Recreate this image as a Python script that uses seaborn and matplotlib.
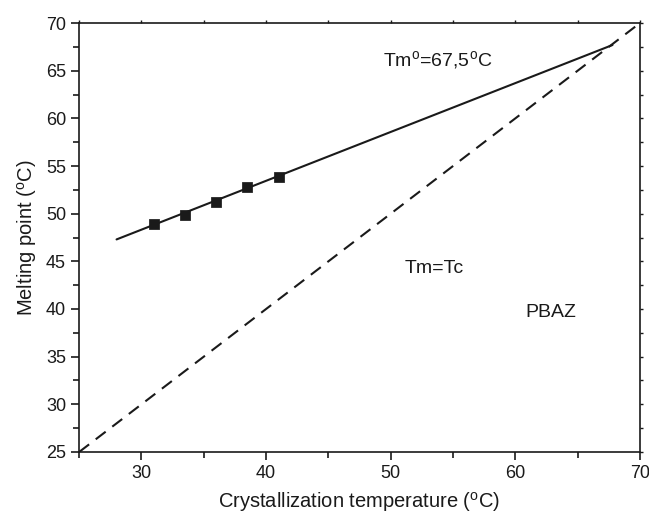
import matplotlib
matplotlib.use("Agg")
import matplotlib.pyplot as plt
from matplotlib.ticker import MultipleLocator
import seaborn as sns
import pandas as pd

# measured points (crystallization temperature vs melting point)
tc = [31, 33.5, 36, 38.5, 41]
tm = [48.9, 49.9, 51.2, 52.8, 53.9]

# extrapolation line
fit_x = [28, 67.8]
fit_y = [47.3, 67.7]

# Tm = Tc reference line
eq_x = [25, 70]
eq_y = [25, 70]

sns.set_style("white")
plt.rcParams['font.family'] = ['Liberation Sans', 'DejaVu Sans']
plt.rcParams['mathtext.fontset'] = 'custom'
plt.rcParams['mathtext.rm'] = 'Liberation Sans'

ink = '#1a1a1a'

fig, ax = plt.subplots(figsize=(6.49, 5.13), dpi=100)
fig.subplots_adjust(left=0.122, right=0.986, top=0.955, bottom=0.119)

pts = pd.DataFrame({'tc': tc, 'tm': tm})
sns.lineplot(x=fit_x, y=fit_y, color=ink, lw=1.5, ax=ax)
sns.lineplot(x=eq_x, y=eq_y, color=ink, lw=1.5, ax=ax, linestyle=(0, (6, 4)))
sns.scatterplot(data=pts, x='tc', y='tm', marker='s', s=45, color=ink,
                edgecolor=ink, ax=ax, zorder=5)

ax.set_xlim(25, 70)
ax.set_ylim(25, 70)
ax.xaxis.set_major_locator(MultipleLocator(10))
ax.xaxis.set_minor_locator(MultipleLocator(5))
ax.yaxis.set_major_locator(MultipleLocator(5))
ax.yaxis.set_minor_locator(MultipleLocator(2.5))
ax.set_xticks([30, 40, 50, 60, 70])

ax.tick_params(axis='both', which='both', direction='out', colors=ink,
               labelsize=13, width=1.2, left=True, bottom=True, top=False, right=False)
ax.tick_params(axis='both', which='major', length=6)
ax.tick_params(axis='both', which='minor', length=4)

# short outward ticks on the top and right frame
top = ax.secondary_xaxis('top')
top.xaxis.set_major_locator(MultipleLocator(5))
top.tick_params(direction='out', length=2, width=1, colors=ink, labeltop=False)
right = ax.secondary_yaxis('right')
right.yaxis.set_major_locator(MultipleLocator(2.5))
right.tick_params(direction='out', length=2, width=1, colors=ink, labelright=False)
for sec in (top, right):
    for sp in sec.spines.values():
        sp.set_visible(False)

for sp in ax.spines.values():
    sp.set_color(ink)
    sp.set_linewidth(1.2)

ax.set_xlabel(r'Crystallization temperature ($^{\mathrm{o}}$C)', fontsize=14.5, color=ink, labelpad=6)
ax.set_ylabel(r'Melting point ($^{\mathrm{o}}$C)', fontsize=14.5, color=ink, labelpad=5)

ax.text(49.4, 66.1, r'Tm$^{\mathrm{o}}$=67,5$^{\mathrm{o}}$C', fontsize=14, color=ink, va='center')
ax.text(51.1, 44.3, 'Tm=Tc', fontsize=14, color=ink, va='center')
ax.text(60.8, 39.6, 'PBAZ', fontsize=14, color=ink, va='center')

fig.savefig('out.png', dpi=100)
